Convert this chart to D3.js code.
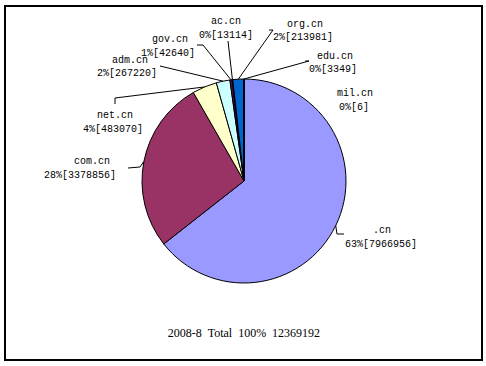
<!DOCTYPE html>
<head>
  <meta charset="utf-8">
  <script src="https://d3js.org/d3.v7.min.js"></script>
  <style>
    body { margin:0; background:#fff; }
    .lbl { font-family: "Liberation Mono", "DejaVu Sans Mono", monospace; font-size: 10px; }
    .title { font-family: "Liberation Serif", "Times New Roman", serif; font-size: 12px; }
  </style>
</head>

<body>
<script>
  var width = 486, height = 366;

  // data
  var domains = [".cn", "com.cn", "net.cn", "adm.cn", "gov.cn", "ac.cn", "org.cn", "edu.cn", "mil.cn"];
  var counts = [7966956, 3378856, 483070, 267220, 42640, 13114, 213981, 3349, 6];
  var percentLabels = ["63%", "28%", "4%", "2%", "1%", "0%", "2%", "0%", "0%"];
  var colors = ["#9999ff", "#993366", "#ffffcc", "#ccffff", "#660066", "#ff8080", "#0066cc", "#ccccff", "#000080"];
  var titleText = "2008-8  Total  100%  12369192";

  // label layout: [x1, y1, x2, y2] centres of the two text lines
  var labelPos = [
    [382, 230, 381, 244],
    [92, 161, 80, 175],
    [115, 115, 113, 129],
    [130, 60, 127, 73],
    [170, 39, 168, 53],
    [226, 21, 226, 35],
    [305, 24, 303, 37],
    [335, 56, 333, 69],
    [355, 93, 354, 107]
  ];
  // leader line start points (label side), finishes on the arc
  var leaderPts = [
    [[344, 234], [337, 234]],
    [[128, 168], [140, 167]],
    [[115, 104], [115, 98]],
    [[160, 66]],
    [[197, 45], [203, 45]],
    [[228, 41]],
    [[269, 30], [273, 30]],
    [[305, 61], [309, 61]],
    null
  ];

  var cx = 244, cy = 181, r = 102;

  var svg = d3.select("body").append("svg")
    .attr("width", width)
    .attr("height", height);

  svg.append("rect")
    .attr("x", 5).attr("y", 6)
    .attr("width", 477).attr("height", 354)
    .attr("fill", "none")
    .attr("stroke", "#000")
    .attr("stroke-width", 2);

  var rows = domains.map(function(d, i) { return {name: d, value: counts[i], i: i}; });

  var pie = d3.pie().sort(null).value(function(d) { return d.value; });
  var arcs = pie(rows);

  var arc = d3.arc().innerRadius(0).outerRadius(r);
  var edge = d3.arc().innerRadius(r).outerRadius(r);

  var g = svg.append("g").attr("transform", "translate(" + cx + "," + cy + ")");

  g.selectAll("path.slice")
    .data(arcs)
    .enter().append("path")
    .attr("class", "slice")
    .attr("d", arc)
    .attr("fill", function(d) { return colors[d.data.i]; })
    .attr("stroke", "#000")
    .attr("stroke-width", 1)
    .attr("stroke-linejoin", "round");

  // leader lines
  var line = d3.line();
  arcs.forEach(function(d) {
    var pts = leaderPts[d.data.i];
    if (!pts) return;
    var c = edge.centroid(d);
    var all = pts.concat([[c[0] + cx, c[1] + cy]]);
    svg.append("path")
      .attr("d", line(all))
      .attr("fill", "none")
      .attr("stroke", "#000")
      .attr("stroke-width", 1);
  });

  // labels
  rows.forEach(function(d) {
    var p = labelPos[d.i];
    svg.append("text")
      .attr("class", "lbl")
      .attr("fill", "#000")
      .attr("x", p[0]).attr("y", p[1])
      .attr("text-anchor", "middle")
      .attr("dominant-baseline", "central")
      .text(d.name);
    svg.append("text")
      .attr("class", "lbl")
      .attr("fill", "#000")
      .attr("x", p[2]).attr("y", p[3])
      .attr("text-anchor", "middle")
      .attr("dominant-baseline", "central")
      .text(percentLabels[d.i] + "[" + d.value + "]");
  });

  svg.append("text")
    .attr("class", "title")
    .attr("fill", "#000")
    .attr("x", 244).attr("y", 333)
    .attr("text-anchor", "middle")
    .attr("dominant-baseline", "central")
    .style("white-space", "pre")
    .text(titleText);
</script>
</body>
